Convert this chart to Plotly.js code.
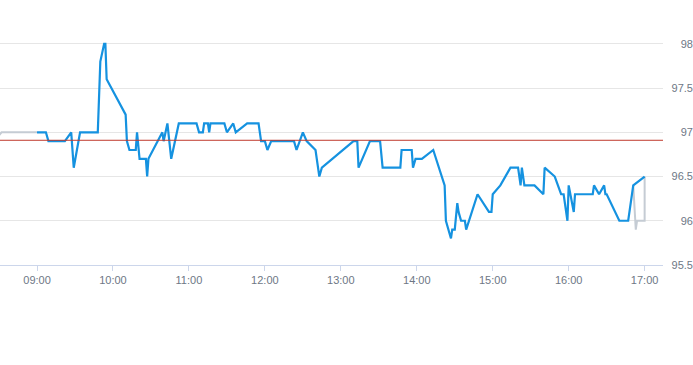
<!DOCTYPE html>
<html>
<head>
<meta charset="utf-8">
<script src="https://cdn.plot.ly/plotly-3.0.1.min.js"></script>
<style>html,body{margin:0;padding:0;background:#fff;}#chart{width:693px;height:365px;}</style>
</head>
<body>
<div id="chart"></div>
<script>
const DAY = '2024-01-02 ';
const mainTimes = ['09:00','09:07','09:09','09:22','09:27','09:29','09:34','09:48','09:50','09:53','09:54','09:55',
 '10:10','10:11','10:13','10:18','10:19','10:20','10:21','10:26','10:27','10:28','10:35','10:39','10:40','10:43','10:46','10:52',
 '11:06','11:08','11:11','11:12','11:15','11:16','11:17','11:28','11:30','11:35','11:37','11:46','11:55','11:57',
 '12:00','12:02','12:05','12:23','12:25','12:30','12:33','12:40','12:43','12:45',
 '13:10','13:13','13:14','13:23','13:31','13:33','13:47','13:48','13:56','13:57','13:59',
 '14:04','14:13','14:22','14:23','14:27','14:28','14:30','14:32','14:33','14:35','14:38','14:39','14:48','14:57','14:59',
 '15:00','15:06','15:14','15:20','15:22','15:23','15:25','15:33','15:40','15:41','15:49','15:54','15:56','15:59',
 '16:00','16:04','16:05','16:19','16:20','16:24','16:28','16:29','16:30','16:40','16:47','16:51','17:00'];
const mainValues = [97.0,97.0,96.9,96.9,97.0,96.6,97.0,97.0,97.8,98.0,98.0,97.6,
 97.2,96.9,96.8,96.8,97.0,96.8,96.7,96.7,96.5,96.7,96.9,97.0,96.9,97.1,96.7,97.1,
 97.1,97.0,97.0,97.1,97.1,97.0,97.1,97.1,97.0,97.1,97.0,97.1,97.1,96.9,
 96.9,96.8,96.9,96.9,96.8,97.0,96.9,96.8,96.5,96.6,
 96.9,96.9,96.6,96.9,96.9,96.6,96.6,96.8,96.8,96.6,96.7,
 96.7,96.8,96.4,96.0,95.8,95.9,95.9,96.2,96.1,96.0,96.0,95.9,96.3,96.1,96.1,
 96.3,96.4,96.6,96.6,96.4,96.6,96.4,96.4,96.3,96.6,96.5,96.3,96.3,96.0,
 96.4,96.1,96.3,96.3,96.4,96.3,96.4,96.3,96.3,96.0,96.0,96.4,96.5];
const preTimes = ['08:29','08:32','09:00'];
const preValues = [96.95,97.0,97.0];
const postTimes = ['16:51','16:53','16:54','17:00','17:00'];
const postValues = [96.4,95.9,96.0,96.0,96.5];
const prevClose = [96.91];
const yTicks = [95.5,96,96.5,97,97.5,98];

const t = a => a.map(s => DAY + s);

const traces = [
  {x: t(preTimes), y: preValues, type:'scatter', mode:'lines', line:{color:'#c5ccd4', width:2}, hoverinfo:'skip'},
  {x: t(postTimes), y: postValues, type:'scatter', mode:'lines', line:{color:'#c5ccd4', width:2}, hoverinfo:'skip'},
  {x: t(mainTimes), y: mainValues, type:'scatter', mode:'lines', line:{color:'#1592e0', width:2.2}}
];

const layout = {
  width: 693, height: 365,
  margin: {l:0, r:0, t:35, b:100, pad:0},
  paper_bgcolor:'#fff', plot_bgcolor:'#fff',
  showlegend:false,
  font:{family:'"Liberation Sans", Arial, sans-serif', size:11, color:'#6e7785'},
  xaxis: {
    type:'date', domain:[0, 663/693],
    range:[DAY+'08:30:45', DAY+'17:14:30'],
    tick0: DAY+'09:00', dtick: 3600000, tickformat:'%H:%M',
    ticks:'outside', ticklen:5, tickcolor:'#ccd6eb', tickwidth:1,
    showline:true, linecolor:'#ccd6eb', linewidth:1,
    showgrid:false, zeroline:false,
    tickfont:{size:11, color:'#6e7785'}
  },
  yaxis: {
    range:[95.5, 98.1], anchor:'free', position:1, side:'left',
    tickvals: yTicks, ticktext: yTicks.map(v => String(v)),
    ticks:'', showline:false, zeroline:false,
    showgrid:true, gridcolor:'#e6e6e6', gridwidth:1,
    tickfont:{size:11, color:'#6e7785'}
  },
  shapes: [{type:'line', xref:'paper', x0:0, x1:663/693, yref:'y', y0:prevClose[0], y1:prevClose[0],
            line:{color:'#c0392b', width:1}}]
};
Plotly.newPlot('chart', traces, layout, {displayModeBar:false, staticPlot:true});
</script>
</body>
</html>
